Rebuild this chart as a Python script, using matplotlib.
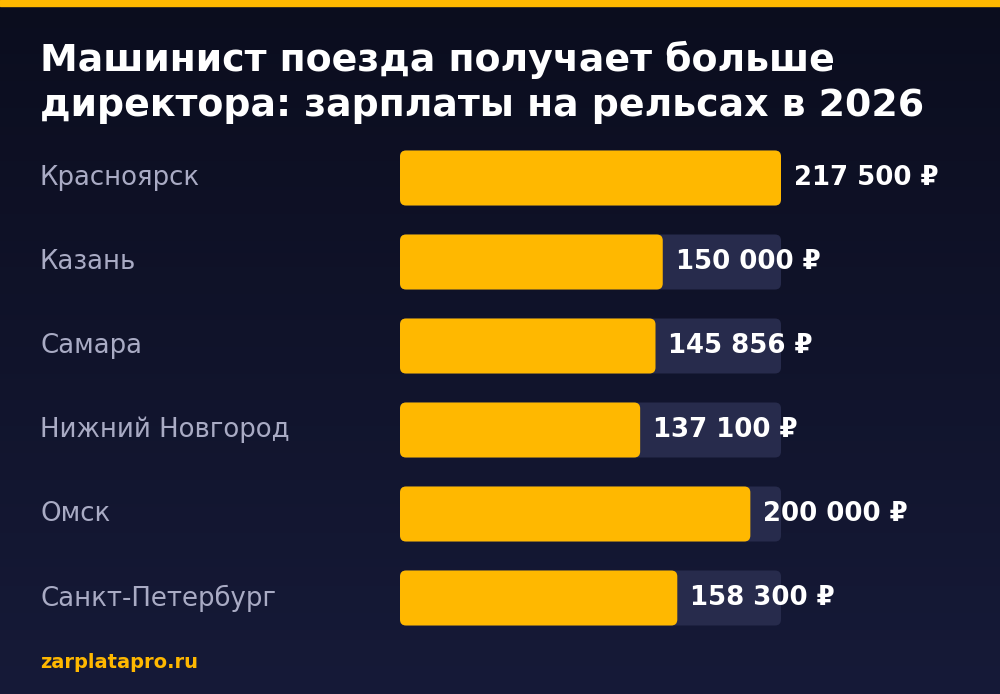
import matplotlib
matplotlib.use("Agg")
import matplotlib.pyplot as plt
import numpy as np
from matplotlib.patches import FancyBboxPatch

plt.rcParams['font.family'] = ['DejaVu Sans']

cities = ["Красноярск", "Казань", "Самара", "Нижний Новгород", "Омск", "Санкт-Петербург"]
values = [217500, 150000, 145856, 137100, 200000, 158300]
labels = ["217 500 ₽", "150 000 ₽", "145 856 ₽", "137 100 ₽", "200 000 ₽", "158 300 ₽"]
title = "Машинист поезда получает больше\nдиректора: зарплаты на рельсах в 2026"
source = "zarplatapro.ru"

W, H = 1000, 694
fig = plt.figure(figsize=(W/100, H/100), dpi=100)
bg = fig.add_axes([0, 0, 1, 1])
grad = np.linspace(0, 1, 256).reshape(-1, 1)
top = np.array([0x0b, 0x0d, 0x1e]) / 255
bot = np.array([0x16, 0x1a, 0x38]) / 255
img = top + (bot - top) * grad[..., None]
bg.imshow(img, aspect="auto", extent=[0, 1, 0, 1], origin="upper")
bg.axhspan(1 - 6/H, 1, color="#FFB800")
bg.set_xlim(0, 1); bg.set_ylim(0, 1); bg.axis("off")

fig.text(40/W, 1 - 41/H, title, color="white", fontsize=27.3, fontweight="bold",
         va="top", ha="left", linespacing=1.32)
fig.text(40/W, 1 - 663/H, source, color="#FFB800", fontsize=14, fontweight="bold", va="center")

vmax = max(values)
ax = fig.add_axes([400/W, 1 - 640/H, 381/W, 504/H])
ax.set_xlim(0, vmax); ax.set_ylim(5.5, -0.5); ax.axis("off")
xpp = vmax / 381; ypp = 1 / 84
h = 55 / 84
r = 6 * xpp
asp = ypp / xpp
for i, (c, v, l) in enumerate(zip(cities, values, labels)):
    ax.add_patch(FancyBboxPatch((0, i - h/2), vmax, h, boxstyle=f"round,pad=0,rounding_size={r}",
                                mutation_aspect=asp, fc="#272b4c", ec="none"))
    ax.add_patch(FancyBboxPatch((0, i - h/2), v, h, boxstyle=f"round,pad=0,rounding_size={r}",
                                mutation_aspect=asp, fc="#FFB800", ec="none"))
    ax.text(v + 13 * xpp, i, l, color="white", fontsize=18.7, fontweight="bold", va="center", ha="left")
    fig.text(40/W, 1 - (178 + 84*i)/H, c, color="#a9abc4", fontsize=18.7, va="center", ha="left")

fig.savefig("out.png", dpi=100)
